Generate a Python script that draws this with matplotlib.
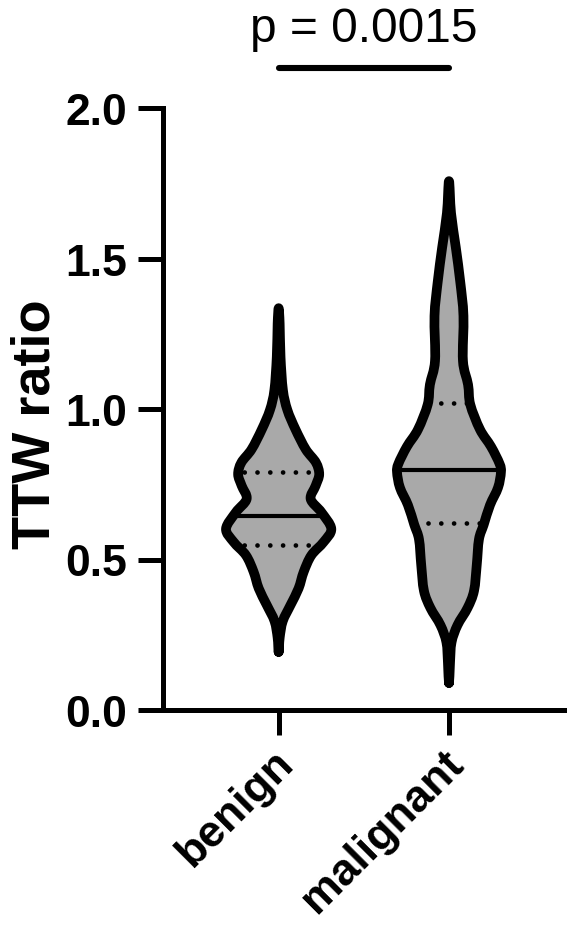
import numpy as np
import matplotlib
matplotlib.use('Agg')
import matplotlib.pyplot as plt
from matplotlib.path import Path
from matplotlib.patches import PathPatch
from matplotlib.transforms import ScaledTranslation

plt.rcParams['font.family'] = ['Liberation Sans', 'DejaVu Sans']

# ---------------- data ----------------
categories = ['benign', 'malignant']
positions = [1, 2]

# violin density profiles: value levels and half-widths (x-axis units)
benign_levels = [0.193, 0.240, 0.295, 0.349, 0.404, 0.459, 0.514, 0.558, 0.602,
                 0.657, 0.701, 0.745, 0.783, 0.822, 0.866, 0.932, 0.997, 1.063,
                 1.173, 1.283, 1.335]
benign_halfwidth = [0.0, 0.006, 0.024, 0.070, 0.117, 0.147, 0.192, 0.264, 0.309,
                    0.251, 0.188, 0.217, 0.238, 0.219, 0.159, 0.099, 0.051, 0.025,
                    0.011, 0.006, 0.0]

malignant_levels = [0.090, 0.156, 0.225, 0.282, 0.339, 0.396, 0.482, 0.567, 0.616,
                    0.681, 0.739, 0.790, 0.818, 0.875, 0.932, 1.015, 1.081, 1.160,
                    1.309, 1.423, 1.537, 1.651, 1.757]
malignant_halfwidth = [0.0, 0.006, 0.015, 0.050, 0.109, 0.147, 0.163, 0.176, 0.204,
                       0.241, 0.288, 0.305, 0.297, 0.247, 0.182, 0.125, 0.112, 0.082,
                       0.085, 0.066, 0.040, 0.012, 0.0]

medians = [0.646, 0.797]
quartile_low = [0.547, 0.620]
quartile_high = [0.791, 1.020]

yticks = [0.0, 0.5, 1.0, 1.5, 2.0]
ytick_labels = ['0.0', '0.5', '1.0', '1.5', '2.0']
ylabel = 'TTW ratio'
p_text = 'p = 0.0015'
bracket_y = 2.133

profiles = [(benign_levels, benign_halfwidth), (malignant_levels, malignant_halfwidth)]

# ---------------- figure ----------------
W, H = 567, 928
fig = plt.figure(figsize=(W / 100, H / 100), dpi=100)
ax = fig.add_axes([163 / W, 1 - 711 / H, (566 - 163) / W, (711 - 109) / H])
ax.set_xlim(0.321, 2.687)
ax.set_ylim(0, 2.0)


def smooth_closed_path(pts):
    """Catmull-Rom -> cubic Bezier path through a closed list of points."""
    n = len(pts)
    verts = [pts[0]]
    codes = [Path.MOVETO]
    for i in range(n):
        p0 = pts[(i - 1) % n]
        p1 = pts[i]
        p2 = pts[(i + 1) % n]
        p3 = pts[(i + 2) % n]
        c1 = p1 + (p2 - p0) / 6.0
        c2 = p2 - (p3 - p1) / 6.0
        verts += [c1, c2, p2]
        codes += [Path.CURVE4] * 3
    return Path(np.array(verts), codes)


fill_color = '#a9a9a9'
for pos, (lv, hw), med, ql, qh in zip(positions, profiles, medians, quartile_low, quartile_high):
    lv = np.asarray(lv)
    hw = np.asarray(hw)
    right = np.column_stack([pos + hw, lv])           # bottom -> top
    left = np.column_stack([pos - hw, lv])[::-1]      # top -> bottom
    pts = np.vstack([right, left[1:-1]])
    path = smooth_closed_path(pts)
    face = PathPatch(path, facecolor=fill_color, edgecolor='none', zorder=2)
    ax.add_patch(face)
    ln, = ax.plot([pos - 0.5, pos + 0.5], [med, med], color='black', lw=3.0,
                  solid_capstyle='butt', zorder=3)
    ln.set_clip_path(face)
    for q in (ql, qh):
        dl, = ax.plot([pos - 0.5, pos + 0.5], [q, q], color='black', lw=3.4,
                      linestyle=(0, (0.01, 2.7)), dash_capstyle='round', zorder=3)
        dl.set_clip_path(face)
    edge = PathPatch(path, facecolor='none', edgecolor='black', lw=7.0,
                     joinstyle='round', capstyle='round', zorder=4)
    ax.add_patch(edge)

# ---------------- axes styling ----------------
for s in ['top', 'right']:
    ax.spines[s].set_visible(False)
for s in ['left', 'bottom']:
    ax.spines[s].set_linewidth(3.6)
    ax.spines[s].set_capstyle('projecting')

ax.set_yticks(yticks)
ax.set_yticklabels(ytick_labels, fontsize=32, fontweight='bold')
ax.set_xticks(positions)
ax.set_xticklabels(categories, fontsize=32, fontweight='bold', rotation=45,
                   ha='right', rotation_mode='anchor')
ax.tick_params(axis='y', length=18, width=3.6, pad=8, direction='out')
ax.tick_params(axis='x', length=18, width=3.6, pad=8, direction='out')
shift = ScaledTranslation(-0.06, 0.04, fig.dpi_scale_trans)
for lab in ax.get_xticklabels():
    lab.set_transform(lab.get_transform() + shift)

fig.text(36 / W, 1 - 424 / H, ylabel, rotation=90, ha='center', va='center',
         fontsize=39, fontweight='bold')

# significance bracket
ax.plot([positions[0], positions[1]], [bracket_y, bracket_y], color='black', lw=4.4,
        solid_capstyle='round', clip_on=False)
fig.text(364 / W, 1 - 42 / H, p_text, ha='center', va='baseline', fontsize=34.5)

fig.savefig('out.png', dpi=100)
